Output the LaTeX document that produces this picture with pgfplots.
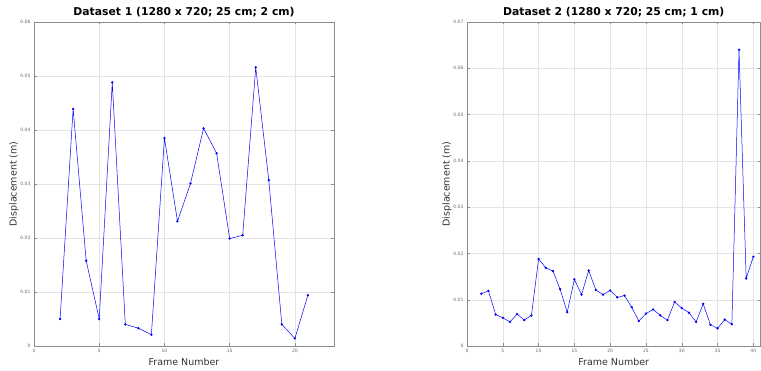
\documentclass[border=0pt]{standalone}
\usepackage{fontspec}
\setmainfont{DejaVu Sans}
\usepackage{pgfplots}
\pgfplotsset{compat=1.18}
\definecolor{lineblue}{RGB}{70,70,240}
\definecolor{gridgray}{RGB}{228,228,228}
\definecolor{framegray}{RGB}{140,140,140}
\pgfplotsset{
  mystyle/.style={
    scale only axis,
    anchor=south west,
    height=324pt,
    axis line style={framegray, line width=0.6pt},
    grid=major,
    major grid style={gridgray, line width=0.4pt},
    tick style={framegray, line width=0.4pt},
    major tick length=2.5pt,
    tick align=inside,
    ticklabel style={font=\fontsize{4.5}{5}\selectfont, text=black!60},
    /pgf/number format/assume math mode=true,
    /pgf/number format/fixed,
    /pgf/number format/precision=2,
    scaled y ticks=false,
    title style={font=\bfseries\fontsize{10.8}{12}\selectfont, yshift=-5pt},
    xlabel style={font=\fontsize{9.5}{11}\selectfont, text=black!80, yshift=2pt},
    ylabel style={font=\fontsize{9.5}{11}\selectfont, text=black!80, yshift=-5pt},
    xlabel={Frame Number},
    ylabel={Displacement (m)},
    every axis plot/.append style={color=lineblue, line width=0.5pt, mark=*, mark size=0.9pt},
  }
}
\begin{document}
\begin{tikzpicture}[x=1pt,y=1pt]
\begin{axis}[mystyle,
  at={(34pt,25pt)}, width=300pt,
  xmin=0, xmax=23, ymin=0, ymax=0.06,
  xtick={0,5,10,15,20},
  ytick={0,0.01,0.02,0.03,0.04,0.05,0.06},
  title={Dataset 1 (1280 x 720; 25 cm; 2 cm)}]
\addplot coordinates {
(2,0.0050) (3,0.0439) (4,0.0158) (5,0.0050) (6,0.0488) (7,0.0040)
(8,0.0033) (9,0.0021) (10,0.0385) (11,0.0231) (12,0.0301) (13,0.0403)
(14,0.0357) (15,0.0199) (16,0.0205) (17,0.0516) (18,0.0307) (19,0.0040)
(20,0.0014) (21,0.0094)};
\end{axis}
\begin{axis}[mystyle,
  at={(467pt,25pt)}, width=293.5pt,
  xmin=0, xmax=41, ymin=0, ymax=0.07,
  xtick={0,5,10,15,20,25,30,35,40},
  ytick={0,0.01,0.02,0.03,0.04,0.05,0.06,0.07},
  title={Dataset 2 (1280 x 720; 25 cm; 1 cm)}]
\addplot coordinates {
(2,0.0113) (3,0.0119) (4,0.0068) (5,0.0061) (6,0.0052) (7,0.0069)
(8,0.0056) (9,0.0066) (10,0.0188) (11,0.0169) (12,0.0162) (13,0.0123)
(14,0.0073) (15,0.0144) (16,0.0111) (17,0.0163) (18,0.0121) (19,0.0111)
(20,0.0120) (21,0.0105) (22,0.0109) (23,0.0084) (24,0.0054) (25,0.0070)
(26,0.0079) (27,0.0066) (28,0.0056) (29,0.0095) (30,0.0082) (31,0.0072)
(32,0.0052) (33,0.0091) (34,0.0046) (35,0.0038) (36,0.0057) (37,0.0047)
(38,0.0640) (39,0.0146) (40,0.0193)};
\end{axis}
\pgfresetboundingbox
\path[use as bounding box] (0,0) rectangle (761,371);
\end{tikzpicture}
\end{document}
